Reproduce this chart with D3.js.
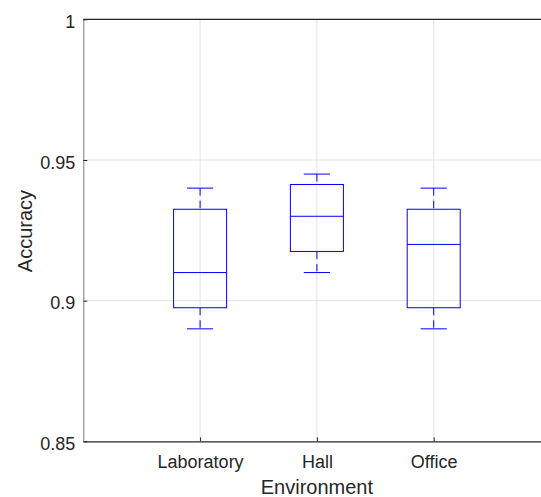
<!DOCTYPE html>
<html>
<head>
<meta charset="utf-8">
<script src="https://cdn.jsdelivr.net/npm/d3@7"></script>
<style>
    html, body { margin: 0; padding: 0; background: #fff; }
    svg { display: block; font-family: "Liberation Sans", Arial, Helvetica, sans-serif; }
</style>
</head>
<body>
<svg id="chart" width="541" height="497"></svg>
<script>
(function (d3) {
    "use strict";

    // 数据
    var categories = ["Laboratory", "Hall", "Office"];
    var whiskerLow = [0.89, 0.91, 0.89];
    var q1 = [0.8975, 0.9175, 0.8975];
    var median = [0.91, 0.93, 0.92];
    var q3 = [0.9325, 0.9413, 0.9325];
    var whiskerHigh = [0.94, 0.945, 0.94];
    var yTicks = [0.85, 0.9, 0.95, 1];
    var yTickLabels = ["0.85", "0.9", "0.95", "1"];

    var boxes = categories.map(function (c, i) {
        return { name: c, pos: i + 1, lo: whiskerLow[i], q1: q1[i], med: median[i], q3: q3[i], hi: whiskerHigh[i] };
    });

    var svg = d3.select("#chart");
    var left = 83.3, right = 550.5, top = 19.3, bottom = 441.4;
    var textColor = "#262626", blue = "#0000ff", gridColor = "#e3e3e3";

    var x = d3.scaleLinear().domain([0, 4]).range([left, right]);
    var y = d3.scaleLinear().domain([0.85, 1]).range([bottom, top]);
    var boxHalf = 0.227, capHalf = 0.112;

    // 网格
    var grid = svg.append("g");
    grid.selectAll(".gy").data(yTicks.slice(1, 3)).enter().append("line")
        .attr("x1", left).attr("x2", right)
        .attr("y1", function (d) { return y(d); }).attr("y2", function (d) { return y(d); })
        .attr("stroke", gridColor).attr("stroke-width", 1);
    grid.selectAll(".gx").data(boxes).enter().append("line")
        .attr("x1", function (d) { return x(d.pos); }).attr("x2", function (d) { return x(d.pos); })
        .attr("y1", top).attr("y2", bottom)
        .attr("stroke", gridColor).attr("stroke-width", 1);

    // 坐标轴
    var yAxis = d3.axisLeft(y).tickValues(yTicks)
        .tickFormat(function (d, i) { return yTickLabels[i]; })
        .tickSizeInner(-4).tickSizeOuter(0).tickPadding(8);
    var yg = svg.append("g").attr("transform", "translate(" + left + ",0)").call(yAxis);
    yg.select(".domain").attr("stroke", "#7a7a7a");
    yg.selectAll(".tick line").attr("stroke", textColor);
    yg.selectAll(".tick text").attr("fill", textColor).style("font-size", "18px").attr("dy", "0.45em");

    var xAxis = d3.axisBottom(x).tickValues(boxes.map(function (d) { return d.pos; }))
        .tickFormat(function (d) { return categories[d - 1]; })
        .tickSizeInner(-4).tickSizeOuter(0).tickPadding(14);
    var xg = svg.append("g").attr("transform", "translate(0," + bottom + ")").call(xAxis);
    xg.select(".domain").attr("stroke", textColor).attr("stroke-width", 1.3);
    xg.selectAll(".tick line").attr("stroke", textColor);
    xg.selectAll(".tick text").attr("fill", textColor).style("font-size", "18px");

    svg.append("line").attr("x1", left).attr("x2", right).attr("y1", top).attr("y2", top)
        .attr("stroke", textColor).attr("stroke-width", 1.3);

    // 轴标题
    svg.append("text").attr("x", (left + right) / 2).attr("y", 494)
        .attr("text-anchor", "middle").attr("fill", textColor).style("font-size", "20px")
        .text("Environment");
    svg.append("text").attr("transform", "translate(32,231) rotate(-90)")
        .attr("text-anchor", "middle").attr("fill", textColor).style("font-size", "20px")
        .text("Accuracy");

    // 箱线图
    var g = svg.selectAll(".box").data(boxes).enter().append("g").attr("class", "box");
    g.append("rect")
        .attr("x", function (d) { return x(d.pos - boxHalf); })
        .attr("width", function (d) { return x(d.pos + boxHalf) - x(d.pos - boxHalf); })
        .attr("y", function (d) { return y(d.q3); })
        .attr("height", function (d) { return y(d.q1) - y(d.q3); })
        .attr("fill", "none").attr("stroke", blue).attr("stroke-width", 1);
    g.append("line")
        .attr("x1", function (d) { return x(d.pos - boxHalf); })
        .attr("x2", function (d) { return x(d.pos + boxHalf); })
        .attr("y1", function (d) { return y(d.med); }).attr("y2", function (d) { return y(d.med); })
        .attr("stroke", blue).attr("stroke-width", 1);
    // 须线 (虚线, 从上往下画)
    g.append("line")
        .attr("x1", function (d) { return x(d.pos); }).attr("x2", function (d) { return x(d.pos); })
        .attr("y1", function (d) { return y(d.hi); }).attr("y2", function (d) { return y(d.q3); })
        .attr("stroke", blue).attr("stroke-width", 1).attr("stroke-dasharray", "7.5,5");
    g.append("line")
        .attr("x1", function (d) { return x(d.pos); }).attr("x2", function (d) { return x(d.pos); })
        .attr("y1", function (d) { return y(d.q1); }).attr("y2", function (d) { return y(d.lo); })
        .attr("stroke", blue).attr("stroke-width", 1).attr("stroke-dasharray", "7.5,5");
    ["hi", "lo"].forEach(function (k) {
        g.append("line")
            .attr("x1", function (d) { return x(d.pos - capHalf); })
            .attr("x2", function (d) { return x(d.pos + capHalf); })
            .attr("y1", function (d) { return y(d[k]); }).attr("y2", function (d) { return y(d[k]); })
            .attr("stroke", blue).attr("stroke-width", 1);
    });
})(d3);
</script>
</body>
</html>
